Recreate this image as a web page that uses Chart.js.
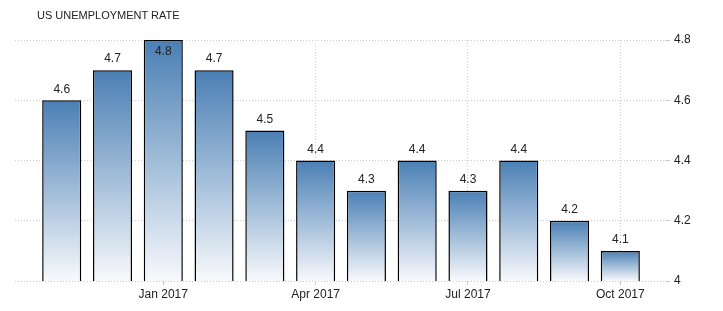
<html><head><meta charset="UTF-8">
<title>US Unemployment Rate</title>
<script src="https://cdn.jsdelivr.net/npm/chart.js"></script>
<style>
body {
  margin: 0;
  background: #ffffff;
  font-family: 'Liberation Sans', Arial, sans-serif;
}
.wrap {
  position: relative;
  width: 723px;
  height: 311px;
}
.chart-title {
  position: absolute;
  left: 37px;
  top: 9px;
  font-size: 11px;
  color: #222;
}
</style>
</head>
<body>
<div class="wrap">
  <div class="chart-title">US UNEMPLOYMENT RATE</div>
  <canvas id="rateChart" width="723" height="311"></canvas>
</div>

<script>
// Chart data
const months = ['Nov 2016', 'Dec 2016', 'Jan 2017', 'Feb 2017', 'Mar 2017', 'Apr 2017',
                'May 2017', 'Jun 2017', 'Jul 2017', 'Aug 2017', 'Sep 2017', 'Oct 2017'];
const rates = [4.6, 4.7, 4.8, 4.7, 4.5, 4.4, 4.3, 4.4, 4.3, 4.4, 4.2, 4.1];
const xTickMonths = ['Jan 2017', 'Apr 2017', 'Jul 2017', 'Oct 2017'];
const yTicks = [4, 4.2, 4.4, 4.6, 4.8];

const points = rates.map((v, i) => ({ x: i, y: v }));

// gradient per bar: blue at the top, near white at the base
function barGradient(context) {
  const chart = context.chart;
  const y = chart.scales.y;
  if (!y || !chart.chartArea) return '#5a8cc0';
  const top = y.getPixelForValue(rates[context.dataIndex]);
  const bottom = y.getPixelForValue(4);
  const g = chart.ctx.createLinearGradient(0, top, 0, bottom);
  g.addColorStop(0, '#4a7fb4');
  g.addColorStop(0.5, '#a0bcd8');
  g.addColorStop(1, '#f8f9fc');
  return g;
}

// value labels above bars (inside when at the top)
const valueLabels = {
  id: 'valueLabels',
  afterDatasetsDraw(chart) {
    const ctx = chart.ctx;
    const meta = chart.getDatasetMeta(0);
    ctx.save();
    ctx.font = '12px "Liberation Sans", Arial, sans-serif';
    ctx.fillStyle = '#222';
    ctx.textAlign = 'center';
    ctx.textBaseline = 'middle';
    meta.data.forEach((bar, i) => {
      const v = rates[i];
      let ty = bar.y - 11;
      if (ty < chart.chartArea.top) ty = bar.y + 12;
      ctx.fillText(v.toFixed(1), bar.x, ty);
    });
    ctx.restore();
  }
};

const ctx = document.getElementById('rateChart').getContext('2d');
new Chart(ctx, {
  type: 'bar',
  data: {
    datasets: [{
      data: points,
      backgroundColor: barGradient,
      borderColor: '#000',
      borderWidth: 1.5,
      borderSkipped: false,
      barPercentage: 0.77,
      categoryPercentage: 1
    }]
  },
  options: {
    responsive: false,
    animation: false,
    layout: { padding: { left: 15, top: 40, right: 0, bottom: 0 } },
    plugins: {
      legend: { display: false },
      tooltip: { enabled: false }
    },
    scales: {
      x: {
        type: 'linear',
        min: -0.92,
        max: 11.88,
        bounds: 'data',
        offset: false,
        afterBuildTicks: (scale) => {
          scale.ticks = xTickMonths.map(m => ({ value: months.indexOf(m) }));
        },
        afterFit: (scale) => { scale.height = 30; },
        ticks: {
          callback: (v) => months[v],
          font: { size: 12, family: '"Liberation Sans", Arial, sans-serif' },
          color: '#222',
          padding: 2,
          maxRotation: 0
        },
        grid: {
          offset: false,
          color: '#cccccc',
          tickLength: 4,
          tickColor: '#cccccc'
        },
        border: { display: false, dash: [1, 2] }
      },
      y: {
        position: 'right',
        min: 4,
        max: 4.8,
        afterBuildTicks: (scale) => {
          scale.ticks = yTicks.map(v => ({ value: v }));
        },
        afterFit: (scale) => { scale.width = 58; },
        ticks: {
          callback: (v) => String(v),
          font: { size: 12, family: '"Liberation Sans", Arial, sans-serif' },
          color: '#222',
          padding: 4
        },
        grid: {
          color: '#cccccc',
          tickLength: 5
        },
        border: { display: false, dash: [1, 2] }
      }
    }
  },
  plugins: [valueLabels]
});
</script>
</body></html>
